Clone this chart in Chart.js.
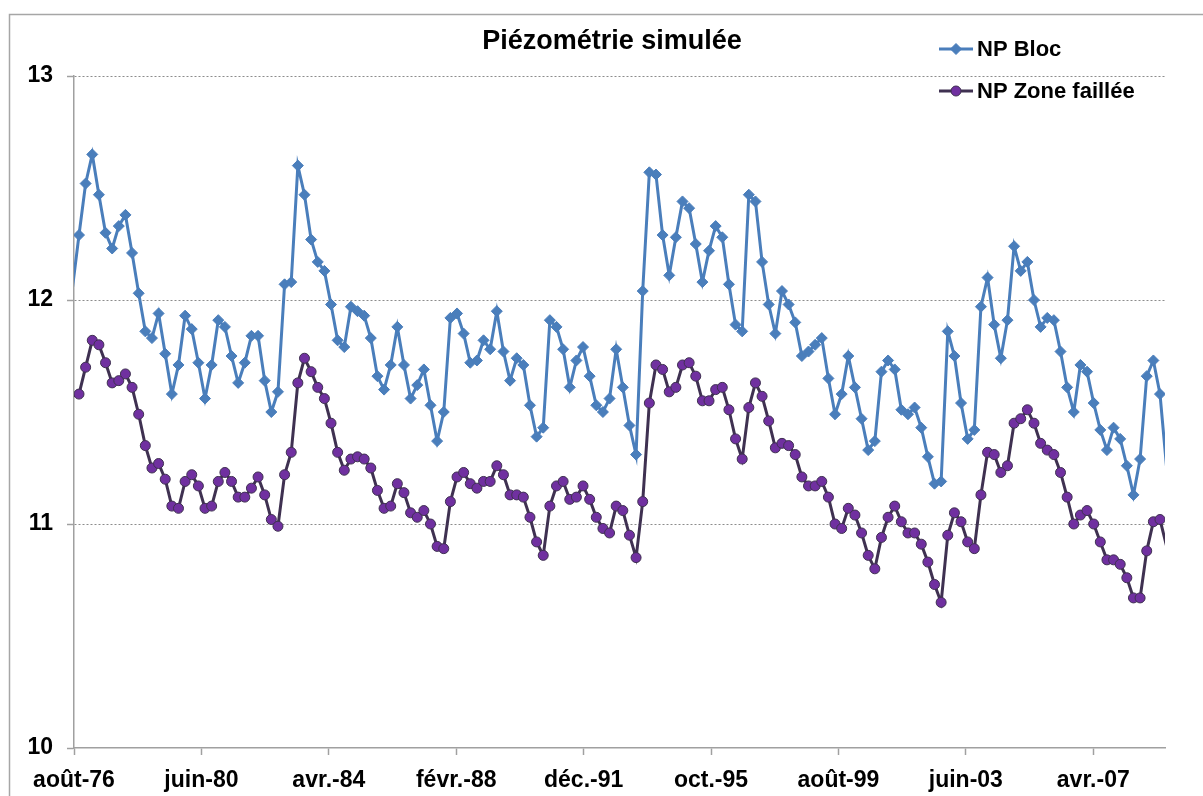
<!DOCTYPE html>
<html>
<head>
<meta charset="utf-8">
<script src="https://cdn.jsdelivr.net/npm/chart.js@4.4.1/dist/chart.umd.min.js"></script>
<style>
html,body{margin:0;padding:0;background:#fff;}
#wrap{position:relative;width:1203px;height:796px;overflow:hidden;}
</style>
</head>
<body>
<div id="wrap"><canvas id="c" width="1203" height="796"></canvas></div>
<script>
// ---------- data ----------
const chartTitle = 'Piézométrie simulée';
const seriesNames = ['NP Bloc', 'NP Zone faillée'];
const tickLabels = ['août-76','juin-80','avr.-84','févr.-88','déc.-91','oct.-95','août-99','juin-03','avr.-07'];
const tickStepMonths = 46;          // months between labelled ticks
const axisEndMonth = 393.9;         // axis end, months after août-76
const firstSampleMonth = -0.589;    // first simulated time step, months after août-76
const sampleStepMonths = 2.3944;    // simulation time step (~73 days)

const npBloc = [
12.05,12.29,12.52,12.65,12.47,12.30,12.23,12.33,12.38,12.21,
12.03,11.86,11.83,11.94,11.76,11.58,11.71,11.93,11.87,11.72,
11.56,11.71,11.91,11.88,11.75,11.63,11.72,11.84,11.84,11.64,
11.50,11.59,12.07,12.08,12.60,12.47,12.27,12.17,12.13,11.98,
11.82,11.79,11.97,11.95,11.93,11.83,11.66,11.60,11.71,11.88,
11.71,11.56,11.62,11.69,11.53,11.37,11.50,11.92,11.94,11.85,
11.72,11.73,11.82,11.78,11.95,11.77,11.64,11.74,11.71,11.53,
11.39,11.43,11.91,11.88,11.78,11.61,11.73,11.79,11.66,11.53,
11.50,11.56,11.78,11.61,11.44,11.31,12.04,12.57,12.56,12.29,
12.11,12.28,12.44,12.41,12.25,12.08,12.22,12.33,12.28,12.07,
11.89,11.86,12.47,12.44,12.17,11.98,11.85,12.04,11.98,11.90,
11.75,11.77,11.80,11.83,11.65,11.49,11.58,11.75,11.61,11.47,
11.33,11.37,11.68,11.73,11.69,11.51,11.49,11.52,11.43,11.30,
11.18,11.19,11.86,11.75,11.54,11.38,11.42,11.97,12.10,11.89,
11.74,11.91,12.24,12.13,12.17,12.00,11.88,11.92,11.91,11.77,
11.61,11.50,11.71,11.68,11.54,11.42,11.33,11.43,11.38,11.26,
11.13,11.29,11.66,11.73,11.58,11.25
];
const npZoneFaillee = [
11.57,11.58,11.70,11.82,11.80,11.72,11.63,11.64,11.67,11.61,
11.49,11.35,11.25,11.27,11.20,11.08,11.07,11.19,11.22,11.17,
11.07,11.08,11.19,11.23,11.19,11.12,11.12,11.16,11.21,11.13,
11.02,10.99,11.22,11.32,11.63,11.74,11.68,11.61,11.56,11.45,
11.32,11.24,11.29,11.30,11.29,11.25,11.15,11.07,11.08,11.18,
11.14,11.05,11.03,11.06,11.00,10.90,10.89,11.10,11.21,11.23,
11.18,11.16,11.19,11.19,11.26,11.22,11.13,11.13,11.12,11.03,
10.92,10.86,11.08,11.17,11.19,11.11,11.12,11.17,11.11,11.03,
10.98,10.96,11.08,11.06,10.95,10.85,11.10,11.54,11.71,11.69,
11.59,11.61,11.71,11.72,11.66,11.55,11.55,11.60,11.61,11.51,
11.38,11.29,11.52,11.63,11.57,11.46,11.34,11.36,11.35,11.31,
11.21,11.17,11.17,11.19,11.12,11.00,10.98,11.07,11.04,10.96,
10.86,10.80,10.94,11.03,11.08,11.01,10.96,10.96,10.91,10.83,
10.73,10.65,10.95,11.05,11.01,10.92,10.89,11.13,11.32,11.31,
11.23,11.26,11.45,11.47,11.51,11.45,11.36,11.33,11.31,11.23,
11.12,11.00,11.04,11.06,11.00,10.92,10.84,10.84,10.82,10.76,
10.67,10.67,10.88,11.01,11.02,10.90
];

// ---------- build ----------
const toPoints = arr => arr.map((v, i) => ({ x: firstSampleMonth + i * sampleStepMonths, y: v }));
const tickValues = tickLabels.map((_, i) => i * tickStepMonths);

const BLUE = '#4A7EBB';
const PURPLE_LINE = '#3F3151';
const PURPLE_FILL = '#7030A0';
const AXIS_GREY = '#A0A0A0';
const FONT = '"Liberation Sans", Arial, sans-serif';

const inRangeRadius = r => ctx => {
  const x = ctx.raw ? ctx.raw.x : 0;
  return (x < 0 || x > axisEndMonth) ? 0 : r;
};

const decor = {
  id: 'decor',
  beforeDraw(chart) {
    const c = chart.ctx;
    c.save();
    c.fillStyle = '#fff';
    c.fillRect(0, 0, chart.width, chart.height);
    c.strokeStyle = '#A6A6A6';
    c.lineWidth = 1.5;
    c.strokeRect(9.5, 14.5, 1400, 1000);
    c.restore();
  },
  afterDraw(chart) {
    const c = chart.ctx;
    c.save();
    // title
    c.fillStyle = '#000';
    c.font = 'bold 27px ' + FONT;
    c.textAlign = 'center';
    c.textBaseline = 'middle';
    c.fillText(chartTitle, 612, 42);
    // legend
    const items = [
      { y: 49, ds: chart.data.datasets[0], shape: 'diamond' },
      { y: 91, ds: chart.data.datasets[1], shape: 'circle' }
    ];
    items.forEach((it, k) => {
      c.strokeStyle = it.ds.borderColor;
      c.lineWidth = 3;
      c.beginPath();
      c.moveTo(939, it.y);
      c.lineTo(973, it.y);
      c.stroke();
      c.fillStyle = it.ds.pointBackgroundColor;
      c.strokeStyle = it.ds.pointBorderColor;
      c.lineWidth = 1;
      c.beginPath();
      if (it.shape === 'diamond') {
        c.moveTo(956, it.y - 5.5); c.lineTo(961.5, it.y); c.lineTo(956, it.y + 5.5); c.lineTo(950.5, it.y); c.closePath();
      } else {
        c.arc(956, it.y, 5, 0, Math.PI * 2);
      }
      c.fill(); c.stroke();
      c.fillStyle = '#000';
      c.font = 'bold 22px ' + FONT;
      c.textAlign = 'left';
      c.textBaseline = 'middle';
      c.fillText(seriesNames[k], 977, it.y + 1);
    });
    c.restore();
  }
};

new Chart(document.getElementById('c'), {
  type: 'line',
  data: {
    datasets: [
      {
        label: seriesNames[0],
        data: toPoints(npBloc),
        borderColor: BLUE,
        borderWidth: 3,
        pointStyle: 'rectRot',
        pointRadius: inRangeRadius(5.5),
        pointBackgroundColor: BLUE,
        pointBorderColor: BLUE,
        pointBorderWidth: 1,
        tension: 0,
        clip: 0
      },
      {
        label: seriesNames[1],
        data: toPoints(npZoneFaillee),
        borderColor: PURPLE_LINE,
        borderWidth: 3,
        pointStyle: 'circle',
        pointRadius: inRangeRadius(5),
        pointBackgroundColor: PURPLE_FILL,
        pointBorderColor: PURPLE_LINE,
        pointBorderWidth: 1,
        tension: 0,
        clip: 0
      }
    ]
  },
  options: {
    responsive: false,
    devicePixelRatio: 1,
    animation: false,
    layout: { padding: { top: 76, right: 38, bottom: 0, left: 0 } },
    plugins: { legend: { display: false }, title: { display: false }, tooltip: { enabled: false } },
    scales: {
      x: {
        type: 'linear',
        min: 0,
        max: axisEndMonth,
        afterFit: s => { s.height = 48; },
        afterBuildTicks: s => { s.ticks = tickValues.map(v => ({ value: v })); },
        grid: { drawOnChartArea: false, drawTicks: true, tickLength: 7, tickColor: AXIS_GREY, tickWidth: 1.5 },
        border: { display: true, color: AXIS_GREY, width: 1.5 },
        ticks: {
          autoSkip: false, maxRotation: 0, minRotation: 0, padding: 12,
          color: '#000', font: { family: FONT, size: 23, weight: 'bold' },
          callback: (v, i) => tickLabels[i]
        }
      },
      y: {
        type: 'linear',
        min: 10,
        max: 13,
        afterFit: s => { s.width = 74; },
        grid: {
          color: ctx => (ctx.tick && ctx.tick.value === 10) ? 'rgba(0,0,0,0)' : '#8C8C8C',
          lineWidth: 1,
          drawTicks: true, tickLength: 7, tickColor: AXIS_GREY, tickWidth: 1.5, tickBorderDash: []
        },
        border: { display: true, color: AXIS_GREY, width: 1.5, dash: [2, 2] },
        ticks: {
          stepSize: 1, padding: 14,
          color: '#000', font: { family: FONT, size: 23, weight: 'bold' }
        }
      }
    }
  },
  plugins: [decor]
});
</script>
</body>
</html>
